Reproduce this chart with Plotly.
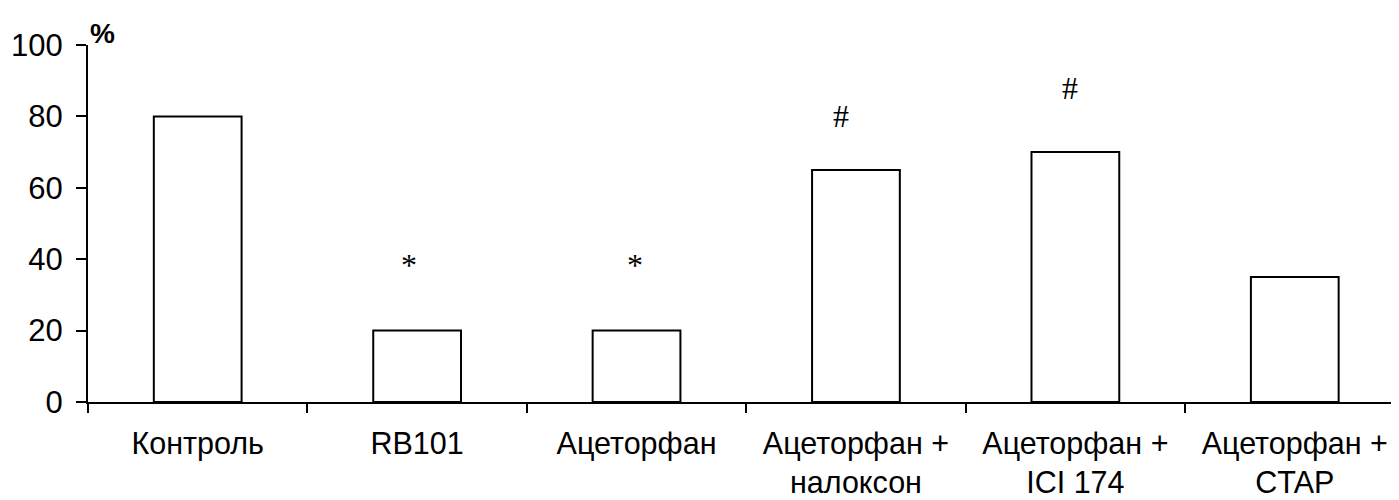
import plotly.graph_objects as go

categories = ["Контроль", "RB101", "Ацеторфан", "Ацеторфан +<br>налоксон",
              "Ацеторфан +<br>ICI 174", "Ацеторфан +<br>CTAP"]
values = [80, 20, 20, 65, 70, 35]
sig_marks = ["", "*", "*", "#", "#", ""]
sig_levels = [None, 38.5, 38.5, 80, 88, None]
y_ticks = [0, 20, 40, 60, 80, 100]

FONT = "Liberation Sans, Arial, sans-serif"
mark_shift = [0, -8, -2, -15, -5, 0]

fig = go.Figure()
fig.add_trace(go.Bar(
    x=categories, y=values, width=0.4,
    marker=dict(color="white", line=dict(color="black", width=2)),
    showlegend=False, hoverinfo="x+y",
))

for i, (m, lv) in enumerate(zip(sig_marks, sig_levels)):
    if m and lv is not None:
        fig.add_annotation(x=categories[i], y=lv, text=m, showarrow=False,
                           xanchor="center", yanchor="middle", xshift=mark_shift[i],
                           font=dict(family="Liberation Serif, Times New Roman, serif",
                                     size=32, color="black"))

fig.add_annotation(xref="paper", yref="paper", x=0, y=1, text="<b>%</b>",
                   showarrow=False, xanchor="left", yanchor="bottom", yshift=-6,
                   font=dict(family=FONT, size=28, color="black"))

fig.update_layout(
    width=1391, height=492,
    margin=dict(l=80, r=0, t=37, b=98, pad=0),
    plot_bgcolor="white", paper_bgcolor="white",
    font=dict(family=FONT, size=30, color="black"),
    bargap=0.6,
)
fig.update_xaxes(
    type="category", range=[-0.5, 5.475], tickson="boundaries",
    showline=True, linecolor="black", linewidth=2,
    ticks="outside", ticklen=9, tickwidth=2, tickcolor="black",
    ticklabelstandoff=13, showgrid=False, zeroline=False, automargin=False,
    tickfont=dict(family=FONT, size=30.5, color="black"),
)
fig.update_yaxes(
    range=[0, 100], tickvals=y_ticks, showline=True, linecolor="black", linewidth=2,
    ticks="outside", ticklen=10, tickwidth=2, tickcolor="black",
    ticklabelstandoff=7, showgrid=False, zeroline=False, automargin=False,
    tickfont=dict(family=FONT, size=31, color="black"),
)

fig.write_html("out.html")
